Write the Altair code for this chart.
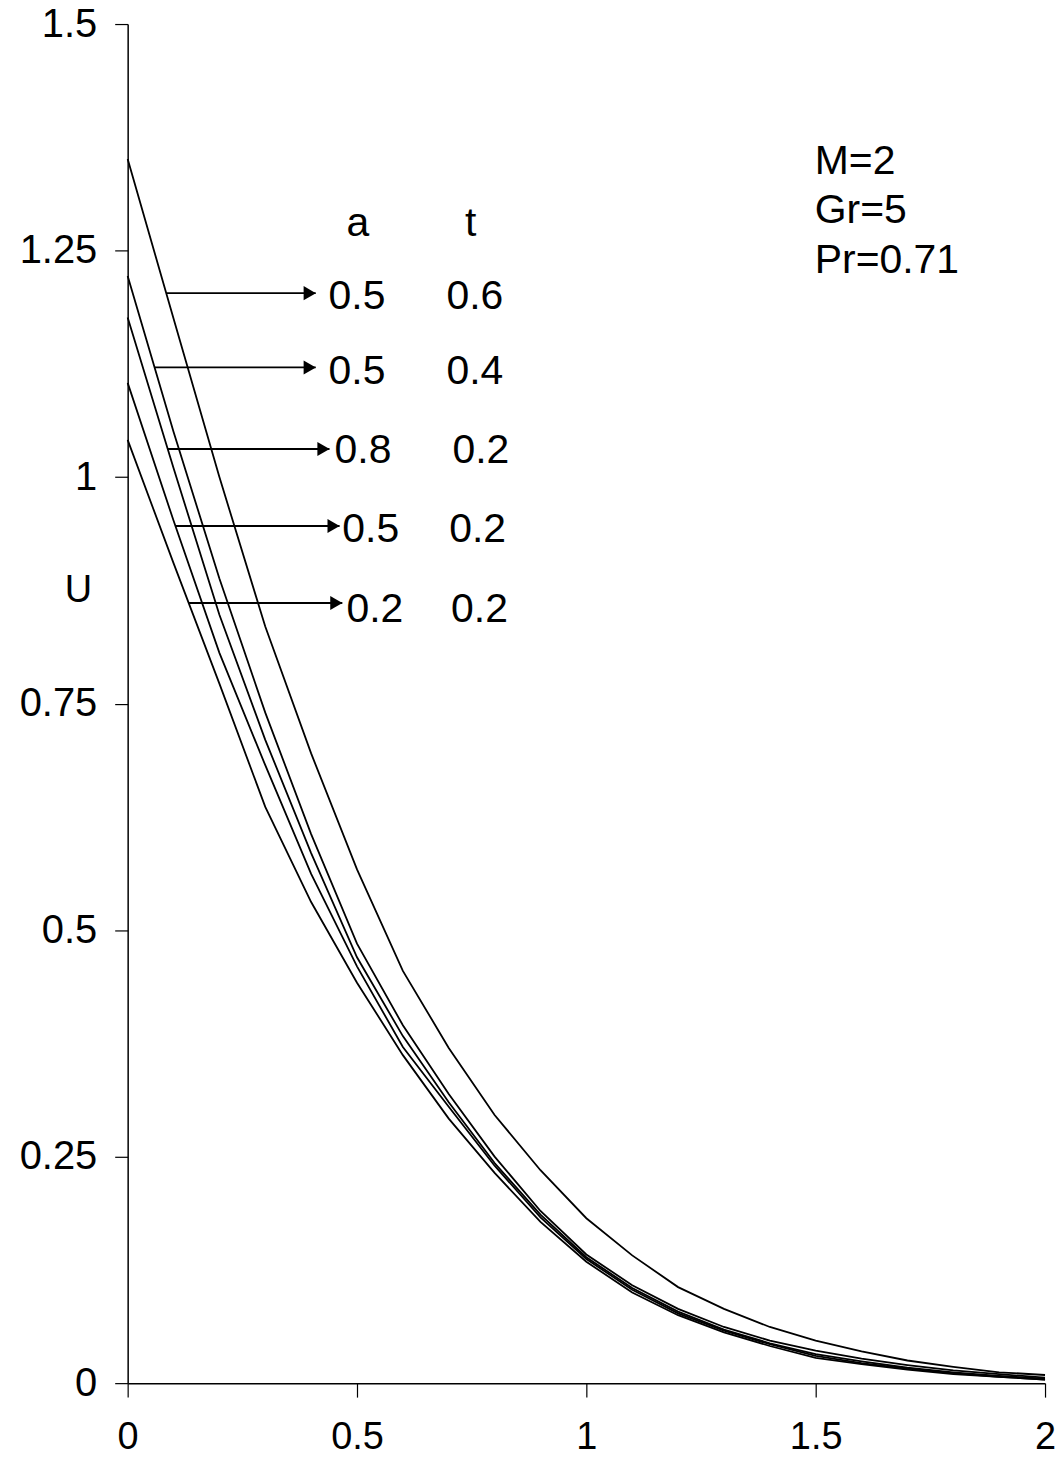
import altair as alt
import pandas as pd

# x positions (shared by all curves)
x_vals = [0.0, 0.1, 0.2, 0.3, 0.4, 0.5, 0.6, 0.7, 0.8, 0.9, 1.0,
          1.1, 1.2, 1.3, 1.4, 1.5, 1.6, 1.7, 1.8, 1.9, 2.0]

# U values for each (a, t) curve
u_a05_t06 = [1.351, 1.175, 1.000, 0.835, 0.695, 0.567, 0.455, 0.370, 0.296, 0.235, 0.182,
             0.141, 0.106, 0.082, 0.062, 0.047, 0.035, 0.025, 0.018, 0.012, 0.009]
u_a05_t04 = [1.222, 1.050, 0.888, 0.740, 0.606, 0.485, 0.395, 0.319, 0.250, 0.190, 0.142,
             0.108, 0.082, 0.062, 0.047, 0.036, 0.027, 0.020, 0.014, 0.010, 0.006]
u_a08_t02 = [1.176, 1.010, 0.848, 0.710, 0.585, 0.470, 0.383, 0.310, 0.243, 0.186, 0.139,
             0.105, 0.079, 0.059, 0.044, 0.032, 0.024, 0.017, 0.012, 0.008, 0.005]
u_a05_t02 = [1.104, 0.952, 0.806, 0.682, 0.562, 0.460, 0.371, 0.305, 0.240, 0.183, 0.137,
             0.103, 0.077, 0.058, 0.043, 0.030, 0.022, 0.016, 0.011, 0.007, 0.004]
u_a02_t02 = [1.041, 0.905, 0.772, 0.636, 0.531, 0.442, 0.362, 0.292, 0.232, 0.178, 0.134,
             0.100, 0.075, 0.056, 0.041, 0.028, 0.021, 0.015, 0.010, 0.007, 0.004]

series_names = ["a0.5_t0.6", "a0.5_t0.4", "a0.8_t0.2", "a0.5_t0.2", "a0.2_t0.2"]
series_vals = [u_a05_t06, u_a05_t04, u_a08_t02, u_a05_t02, u_a02_t02]

# labels next to the arrows
a_labels = ["0.5", "0.5", "0.8", "0.5", "0.2"]
t_labels = ["0.6", "0.4", "0.2", "0.2", "0.2"]
a_label_x = [0.500, 0.500, 0.513, 0.530, 0.539]
t_label_x = [0.757, 0.757, 0.770, 0.763, 0.767]
label_y = [1.185, 1.103, 1.015, 0.928, 0.840]

# arrows: from curve to label
arrow_x_start = [0.085, 0.059, 0.087, 0.104, 0.133]
arrow_x_end = [0.410, 0.410, 0.440, 0.462, 0.468]
arrow_y = [1.203, 1.121, 1.031, 0.946, 0.861]

header_text = ["a", "t"]
header_x = [0.502, 0.748]
header_y = [1.2656, 1.2656]

param_text = ["M=2", "Gr=5", "Pr=0.71"]
param_x = [1.498, 1.498, 1.498]
param_y = [1.334, 1.280, 1.225]

x_ticks = [0, 0.5, 1, 1.5, 2]
y_ticks = [0, 0.25, 0.5, 0.75, 1, 1.25, 1.5]

FONT = "Liberation Sans"

rows = []
for name, vals in zip(series_names, series_vals):
    for xv, uv in zip(x_vals, vals):
        rows.append({"series": name, "x": xv, "u": uv})
curves_df = pd.DataFrame(rows)

arrows_df = pd.DataFrame({"x0": arrow_x_start, "x1": arrow_x_end, "y": arrow_y})
labels_df = pd.DataFrame({"a": a_labels, "t": t_labels, "ax": a_label_x,
                          "tx": t_label_x, "y": label_y})
header_df = pd.DataFrame({"text": header_text, "x": header_x, "y": header_y})
param_df = pd.DataFrame({"text": param_text, "x": param_x, "y": param_y})

xscale = alt.Scale(domain=[0, 2], nice=False, zero=False)
yscale = alt.Scale(domain=[0, 1.5], nice=False, zero=False)

x_axis = alt.Axis(values=x_ticks, format="~g", title=None, grid=False,
                  labelFont=FONT, labelFontSize=38, labelColor="black",
                  labelPadding=22, tickSize=14, tickColor="black", tickWidth=1.2,
                  domainColor="black", domainWidth=1.5, labelFlush=False)
y_axis = alt.Axis(values=y_ticks, format="~g", title="U", grid=False,
                  labelFont=FONT, labelFontSize=40, labelColor="black",
                  labelPadding=18, tickSize=13, tickColor="black", tickWidth=1.2,
                  domainColor="black", domainWidth=1.5, labelFlush=False,
                  titleAngle=0, titleFont=FONT, titleFontSize=38,
                  titleFontWeight="normal", titleColor="black",
                  titleX=-50, titleY=568, titleAlign="center",
                  titleBaseline="middle")

curves = alt.Chart(curves_df).mark_line(color="black", strokeWidth=1.8).encode(
    x=alt.X("x:Q", scale=xscale, axis=x_axis),
    y=alt.Y("u:Q", scale=yscale, axis=y_axis),
    detail="series:N",
)

arrow_lines = alt.Chart(arrows_df).mark_rule(color="black", strokeWidth=1.8).encode(
    x=alt.X("x0:Q", scale=xscale),
    x2="x1:Q",
    y=alt.Y("y:Q", scale=yscale),
)

arrow_heads = alt.Chart(arrows_df).mark_point(
    shape="triangle-right", filled=True, color="black", opacity=1,
    size=200, xOffset=-6,
).encode(
    x=alt.X("x1:Q", scale=xscale),
    y=alt.Y("y:Q", scale=yscale),
)

a_text = alt.Chart(labels_df).mark_text(
    font=FONT, fontSize=41, color="black", align="center", baseline="alphabetic"
).encode(x=alt.X("ax:Q", scale=xscale), y=alt.Y("y:Q", scale=yscale), text="a:N")

t_text = alt.Chart(labels_df).mark_text(
    font=FONT, fontSize=41, color="black", align="center", baseline="alphabetic"
).encode(x=alt.X("tx:Q", scale=xscale), y=alt.Y("y:Q", scale=yscale), text="t:N")

header = alt.Chart(header_df).mark_text(
    font=FONT, fontSize=41, color="black", align="center", baseline="alphabetic"
).encode(x=alt.X("x:Q", scale=xscale), y=alt.Y("y:Q", scale=yscale), text="text:N")

params = alt.Chart(param_df).mark_text(
    font=FONT, fontSize=41, color="black", align="left", baseline="alphabetic"
).encode(x=alt.X("x:Q", scale=xscale), y=alt.Y("y:Q", scale=yscale), text="text:N")

chart = alt.layer(curves, arrow_lines, arrow_heads, a_text, t_text, header, params).properties(
    width=920,
    height=1363,
    autosize=alt.AutoSizeParams(type="none"),
    padding={"left": 120, "top": 14, "right": 10, "bottom": 80},
    background="white",
).configure_view(stroke=None)

chart.save("out.html", embed_options={"renderer": "svg", "actions": False})
